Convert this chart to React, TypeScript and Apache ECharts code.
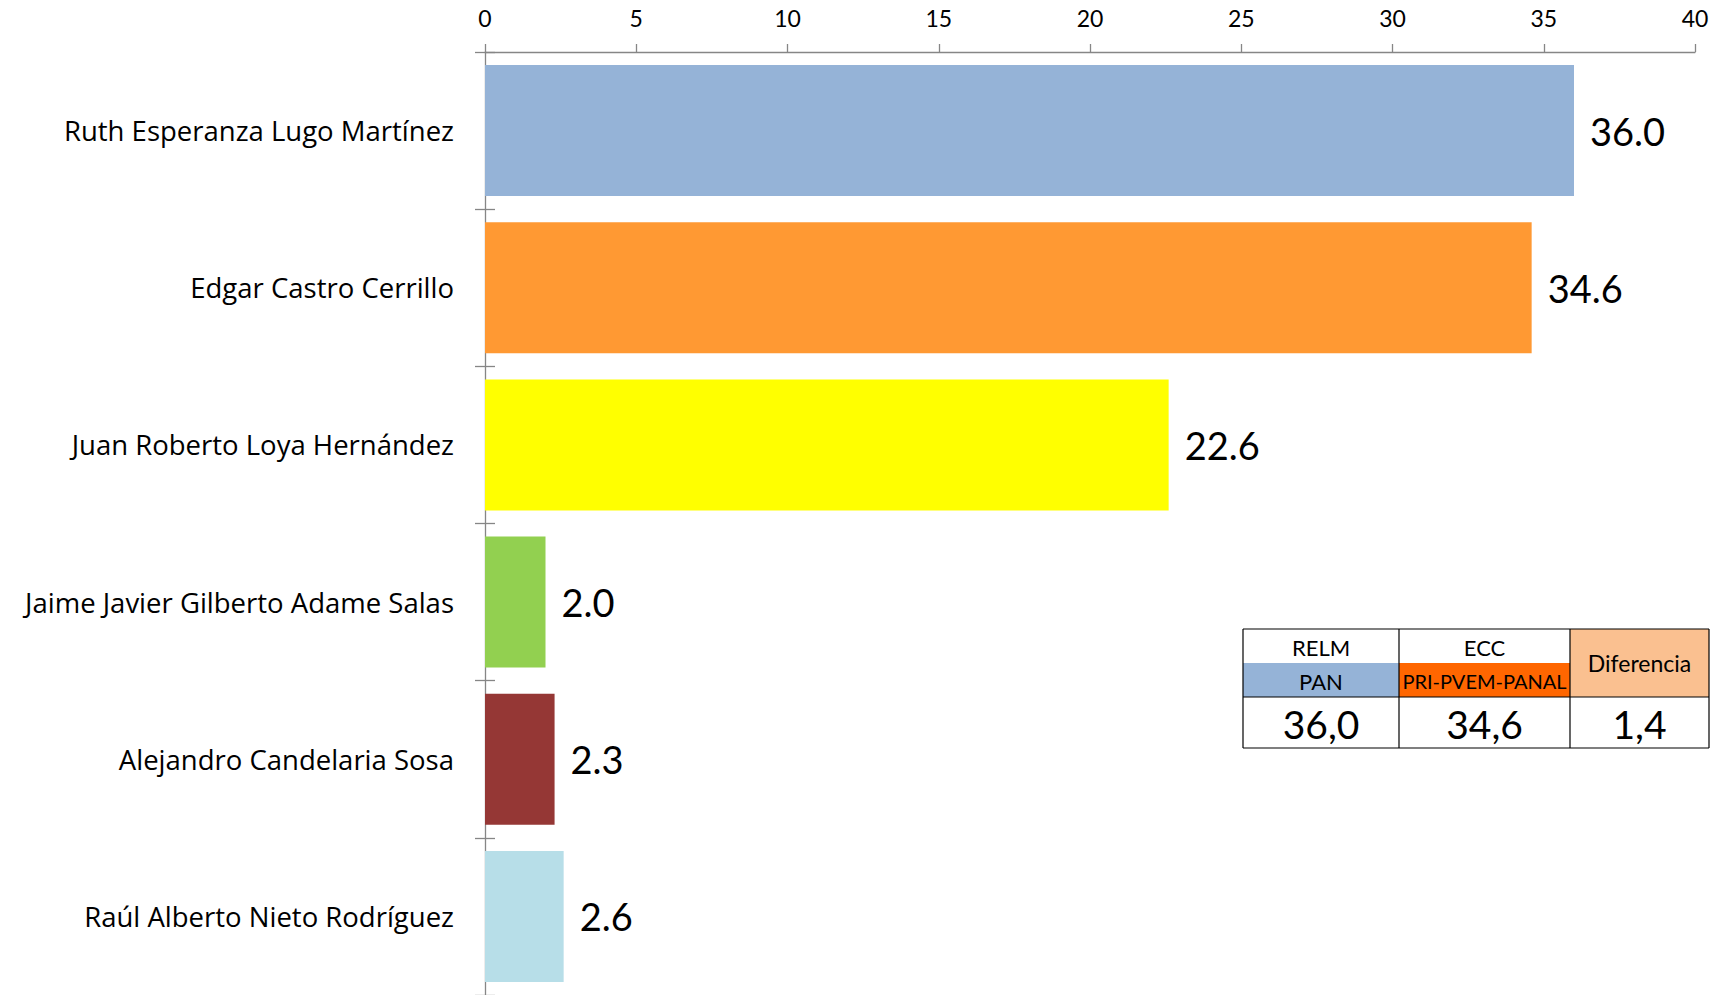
import React, { useEffect, useRef } from "react";
import * as echarts from "echarts";

const candidates = [
  "Ruth Esperanza Lugo Martínez",
  "Edgar Castro Cerrillo",
  "Juan Roberto Loya Hernández",
  "Jaime Javier Gilberto Adame Salas",
  "Alejandro Candelaria Sosa",
  "Raúl Alberto Nieto Rodríguez",
];
const votes = [36.0, 34.6, 22.6, 2.0, 2.3, 2.6];
const barColors = ["#95B3D7", "#FF9933", "#FFFF00", "#92D050", "#953735", "#B7DEE8"];

const xMin = 0;
const xMax = 40;
const xInterval = 5;

const tableHeaders = ["RELM", "ECC", "Diferencia"];
const tableParties = ["PAN", "PRI-PVEM-PANAL"];
const tableValues = ["36,0", "34,6", "1,4"];
const tableColors = ["#95B3D7", "#FF6600", "#FAC090"];

const FONT = "Lato, 'Noto Sans', sans-serif";
const LABEL_FONT = "'Open Sans', 'Noto Sans', sans-serif";
const AXIS_GRAY = "#868686";

function buildTable(): any[] {
  const L = 1243, C1 = 1399, C2 = 1570, R = 1709;
  const T = 629, M = 663, V = 697, B = 748;
  const els: any[] = [];
  const cols = [[L, C1], [C1, C2], [C2, R]];
  els.push({ type: "rect", shape: { x: L, y: M, width: C1 - L, height: V - M }, style: { fill: tableColors[0] } });
  els.push({ type: "rect", shape: { x: C1, y: M, width: C2 - C1, height: V - M }, style: { fill: tableColors[1] } });
  els.push({ type: "rect", shape: { x: C2, y: T, width: R - C2, height: V - T }, style: { fill: tableColors[2] } });
  const lines = [
    [L, T, R, T], [L, V, R, V], [L, B, R, B],
    [L, T, L, B], [C1, T, C1, B], [C2, T, C2, B], [R, T, R, B],
  ];
  lines.forEach(([x1, y1, x2, y2]) =>
    els.push({ type: "line", shape: { x1, y1, x2, y2 }, style: { stroke: "#000", lineWidth: 1.2 } })
  );
  const txt = (x: number, y: number, s: string, size: number) => ({
    type: "text",
    x, y,
    style: { text: s, fill: "#000", font: `${size}px ${FONT}`, align: "center", verticalAlign: "middle" },
  });
  els.push(txt((L + C1) / 2, (T + M) / 2 + 1, tableHeaders[0], 22));
  els.push(txt((C1 + C2) / 2, (T + M) / 2 + 1, tableHeaders[1], 22));
  els.push(txt((C2 + R) / 2, (T + V) / 2, tableHeaders[2], 23));
  els.push(txt((L + C1) / 2, (M + V) / 2 + 1, tableParties[0], 22));
  els.push(txt((C1 + C2) / 2, (M + V) / 2 + 1, tableParties[1], 20));
  tableValues.forEach((v, i) => {
    els.push(txt((cols[i][0] + cols[i][1]) / 2, (V + B) / 2 + 1, v, 39));
  });
  return els;
}

export default function App() {
  const ref = useRef<HTMLDivElement>(null);
  useEffect(() => {
    if (!ref.current) return;
    const chart = echarts.init(ref.current, null, { renderer: "svg" });
    chart.setOption({
      animation: false,
      backgroundColor: "#ffffff",
      textStyle: { fontFamily: FONT },
      grid: { left: 485, width: 1210, top: 52, bottom: -5, containLabel: false },
      xAxis: {
        type: "value",
        position: "top",
        min: xMin,
        max: xMax,
        interval: xInterval,
        splitLine: { show: false },
        axisLine: { show: true, lineStyle: { color: AXIS_GRAY, width: 1.3 } },
        axisTick: { show: true, length: 8, lineStyle: { color: AXIS_GRAY, width: 1.3 } },
        axisLabel: { fontSize: 23, color: "#000", margin: 23, fontFamily: FONT },
      },
      yAxis: [
        {
          type: "category",
          data: candidates,
          inverse: true,
          axisLine: { show: true, lineStyle: { color: AXIS_GRAY, width: 1.3 } },
          axisTick: { show: true, length: 10, lineStyle: { color: AXIS_GRAY, width: 1.3 } },
          axisLabel: { fontSize: 27.5, color: "#000", margin: 31, fontFamily: LABEL_FONT },
        },
        {
          type: "category",
          data: candidates,
          inverse: true,
          position: "left",
          axisLine: { show: false },
          axisTick: { show: true, inside: true, length: 10, lineStyle: { color: AXIS_GRAY, width: 1.3 } },
          axisLabel: { show: false },
        },
      ],
      series: [
        {
          type: "bar",
          yAxisIndex: 0,
          data: votes.map((v, i) => ({ value: v, itemStyle: { color: barColors[i] } })),
          barCategoryGap: "16.7%",
          label: {
            show: true,
            position: "right",
            distance: 16,
            fontSize: 38,
            color: "#000",
            fontFamily: FONT,
            formatter: (p: any) => Number(p.value).toFixed(1),
          },
        },
      ],
      graphic: buildTable(),
    });
    return () => chart.dispose();
  }, []);
  return (
    <div
      ref={ref}
      style={{ position: "absolute", left: 0, top: 0, width: 1721, height: 995 }}
    />
  );
}
